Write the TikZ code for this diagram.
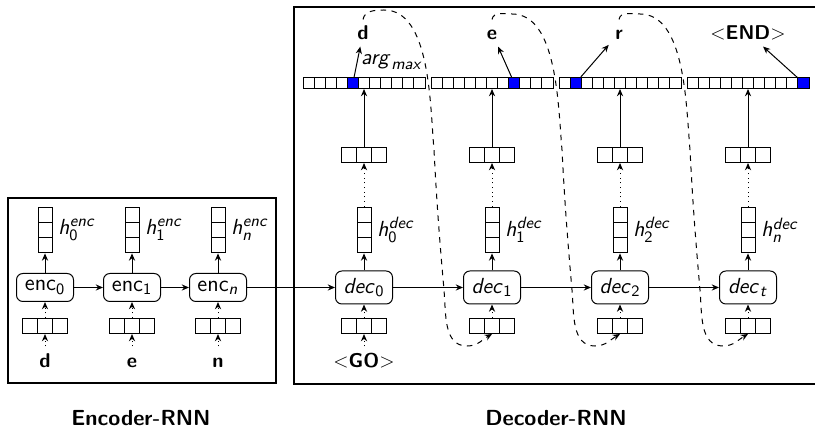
\documentclass[tikz,border=0pt]{standalone}
\usepackage{fontspec}
\usetikzlibrary{arrows.meta,calc,positioning}
\DeclareMathAlphabet{\mathsfit}{OT1}{cmss}{m}{sl}

\tikzset{
  hgrid/.style={path picture={
    \pgfmathtruncatemacro\m{#1-1}
    \foreach \k in {1,...,\m}
      \draw ($(path picture bounding box.north west)!{\k/#1}!(path picture bounding box.north east)$)
        -- ($(path picture bounding box.south west)!{\k/#1}!(path picture bounding box.south east)$);}},
  vgrid/.style={path picture={
    \pgfmathtruncatemacro\m{#1-1}
    \foreach \k in {1,...,\m}
      \draw ($(path picture bounding box.north west)!{\k/#1}!(path picture bounding box.south west)$)
        -- ($(path picture bounding box.north east)!{\k/#1}!(path picture bounding box.south east)$);}},
  invec/.style={draw, inner sep=0pt, minimum width=24.75pt, minimum height=8.25pt, hgrid=3},
  hidvec/.style={draw, inner sep=0pt, minimum width=7.7pt, minimum height=25.2pt, vgrid=3},
  outvec/.style={draw, inner sep=0pt, minimum width=67.1pt, minimum height=6.05pt, hgrid=11},
  hot/.style={draw, fill=blue, inner sep=0pt, minimum width=6.1pt, minimum height=6.05pt},
  mth/.style={font=\sffamily\fontsize{12.5}{15}\selectfont},
  rnn/.style={mth, draw, rounded corners=3.5pt, minimum width=31.35pt, inner sep=1pt},
  sym/.style={font=\sffamily\bfseries\fontsize{11}{13}\selectfont, text height=7.7pt, text depth=0pt},
  rnnbox/.style={draw, line width=0.8pt},
}

\begin{document}
\begin{tikzpicture}[x=0.55pt, y=-0.55pt, font=\sffamily, line width=0.55pt,
  >={Stealth[length=4pt,width=3.4pt]}]
\useasboundingbox (0,0) rectangle (815,428);

% encoder
\draw[rnnbox] (8,198) rectangle (276,383);
\foreach \i/\x/\c/\s in {0/45/d/\mathsf{0}, 1/132/e/\mathsf{1}, 2/218/n/\mathsfit{n}} {
  \node[rnn, minimum height=15.4pt] (enc\i) at (\x,287.5) {enc$_\s$};
  \node[hidvec] (he\i) at (\x,230) {};
  \node[mth, right=2pt of he\i, inner sep=1pt] (lhe\i) {$\mathsfit{h}^{\mathsfit{enc}}_\s$};
  \node[invec] (xe\i) at (\x,326) {};
  \node[sym] (ce\i) at (\x,360) {\c};
  \draw[->] (enc\i) -- (he\i);
  \draw[->,dotted] (xe\i) -- (enc\i);
  \draw[->,dotted] (ce\i) -- (xe\i);
}

% decoder
\draw[rnnbox] (830,7) -| (294,384) -- (830,384);
\foreach \i/\s/\h in {0/\mathsf{0}/\mathsf{0}, 1/\mathsf{1}/\mathsf{1}, 2/\mathsf{2}/\mathsf{2}, 3/\mathsfit{t}/\mathsfit{n}} {
  \pgfmathsetmacro\X{364+128*\i}
  \node[rnn, minimum height=18.15pt] (dec\i) at (\X,287.5) {$\mathsfit{dec}_\s$};
  \node[invec] (xd\i) at (\X,326) {};
  \node[hidvec] (hd\i) at (\X,230) {};
  \node[mth, right=2pt of hd\i, inner sep=1pt] (lhd\i) {$\mathsfit{h}^{\mathsfit{dec}}_\h$};
  \node[invec] (yd\i) at (\X,155) {};
  \node[outvec] (pd\i) at (\X,83) {};
  \draw[->] (dec\i) -- (hd\i);
  \draw[->,dotted] (hd\i) -- (yd\i);
  \draw[->] (yd\i) -- (pd\i);
  \draw[->,dotted] (xd\i) -- (dec\i);
}
\node[sym] (go) at (364,360) {\textmd{<}GO\textmd{>}};
\draw[->,dotted] (go) -- (xd0);

\draw[->] (enc0) -- (enc1);
\draw[->] (enc1) -- (enc2);
\draw[->] (enc2) -- (dec0);
\draw[->] (dec0) -- (dec1);
\draw[->] (dec1) -- (dec2);
\draw[->] (dec2) -- (dec3);

% argmax outputs
\node[hot] (b0) at (352.9,83) {};
\node[hot] (b1) at (514.2,83) {};
\node[hot] (b2) at (575.6,83) {};
\node[hot] (b3) at (803.5,83) {};
\node[sym] (o0) at (363,33) {d};
\node[sym] (o1) at (492,33) {e};
\node[sym] (o2) at (619,33) {r};
\node[sym] (o3) at (748,33) {\textmd{<}END\textmd{>}};
\draw[->] (b0) -- node[mth, right, inner sep=2pt] (am) {$\mathsfit{arg}_{\mathsfit{max}}$} (o0);
\draw[->] (b1) -- (o1);
\draw[->] (b2) -- (o2);
\draw[->] (b3) -- (o3);

% feed back
\foreach \i/\pk in {0/10,1/14,2/14} {
  \pgfmathtruncatemacro\j{\i+1}
  \pgfmathsetmacro\X{364+128*\i}
  \draw[dashed,->] (o\i.north) to[out=80,in=180] (\X+20,\pk)
    to[out=0,in=95,looseness=0.8] (\X+70,150) to[out=-87,in=95] (\X+80,290)
    to[out=-85,in=180] (\X+103,346) to[out=0,in=-150] (xd\j.south);
}

\node[font=\sffamily\bfseries\large, inner sep=1pt] (encl) at (141,418) {Encoder-RNN};
\node[font=\sffamily\bfseries\large, inner sep=1pt] (decl) at (556,418) {Decoder-RNN};
\end{tikzpicture}
\end{document}
